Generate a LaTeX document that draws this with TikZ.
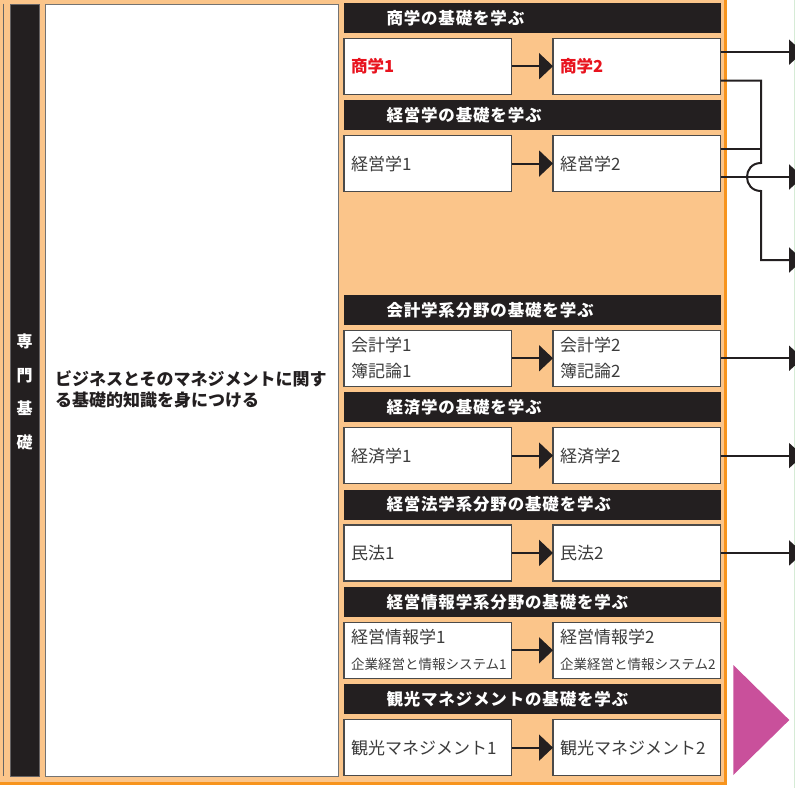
\documentclass[tikz,border=0pt]{standalone}
\usepackage{fontspec}
\newfontfamily\jp{Noto Sans CJK JP}
\newfontfamily\jpsp[LetterSpace=5]{Noto Sans CJK JP}
\usetikzlibrary{arrows.meta}
\definecolor{orl}{HTML}{FBC58A}
\definecolor{oro}{HTML}{F7941D}
\definecolor{dk}{HTML}{231F20}
\definecolor{bdr}{HTML}{4A4A4A}
\definecolor{txt}{HTML}{3C3C3C}
\definecolor{redt}{HTML}{E8131E}
\definecolor{pinkt}{HTML}{C9509B}
\definecolor{grn}{HTML}{D6EBD6}
\tikzset{
  hdr/.style={rectangle, fill=dk, draw=dk, line width=0.8pt, anchor=north west, outer sep=0pt,
    minimum height=29pt, text width=291pt, inner xsep=42.5pt, inner ysep=0pt, align=left,
    text=white, font=\jpsp\bfseries\fontsize{16.5}{18}\selectfont},
  crs/.style={rectangle, fill=white, draw=bdr, line width=1.3pt, anchor=north west, outer sep=0pt,
    minimum height=56pt, text width=153.5pt, inner xsep=7pt, inner ysep=0pt, align=left,
    text=txt, font=\jp\fontsize{17}{26}\selectfont},
  redc/.style={text=redt, font=\jp\bfseries\fontsize{16.5}{26}\selectfont},
  conn/.style={draw=dk, line width=2pt, -{Triangle[length=14pt,width=26pt]}},
  outa/.style={draw=dk, line width=2pt, -{Triangle[length=14pt,width=25pt]}},
  plain/.style={draw=dk, line width=2pt},
}
\begin{document}
\begin{tikzpicture}[x=1pt,y=-1pt]
\clip (0,0) rectangle (795,787);
% background
\fill[orl] (-5,-5) rectangle (725,783);
\draw[oro, line width=3pt] (725,-5) -- (725,783) -- (-5,783);
\draw[grn, line width=1pt] (794,-5) -- (794,792);
\draw[gray!80!black, line width=1pt] (3.5,3.5) -- (3.5,776);
% left column
\node[rectangle, fill=dk, draw=dk!70!white, line width=0.6pt, anchor=north west, minimum width=29pt, minimum height=772.5pt, inner sep=0pt] (col) at (10,3.5) {};
\node[align=center, text=white, font=\jp\bfseries\fontsize{16}{33.5}\selectfont] (colt) at (24.5,392) {専\\門\\基\\礎};
\node[rectangle, fill=white, draw=gray!90!black, line width=1pt, anchor=north west, minimum width=293pt, minimum height=772.5pt, inner sep=0pt] (wb) at (45,3.5) {};
\node[anchor=west, align=left, text=dk, font=\jp\bfseries\fontsize{17}{21.5}\selectfont, inner sep=0pt] (goal) at (55,389.5) {ビジネスとそのマネジメントに関す\\る基礎的知識を身につける};
% headers
\node[hdr] (h1) at (344,3.4) {商学の基礎を学ぶ};
\node[hdr] (h2) at (344,100.75) {経営学の基礎を学ぶ};
\node[hdr] (h3) at (344,295.45) {会計学系分野の基礎を学ぶ};
\node[hdr] (h4) at (344,392.8) {経済学の基礎を学ぶ};
\node[hdr] (h5) at (344,490.15) {経営法学系分野の基礎を学ぶ};
\node[hdr] (h6) at (344,587.5) {経営情報学系分野の基礎を学ぶ};
\node[hdr] (h7) at (344,684.85) {観光マネジメントの基礎を学ぶ};
% course boxes
\node[crs, redc] (s1) at (344,38.2) {商学1};
\node[crs, redc] (s2) at (553,38.2) {商学2};
\node[crs] (k1) at (344,135.55) {経営学1};
\node[crs] (k2) at (553,135.55) {経営学2};
\node[crs] (a1) at (344,330.25) {会計学1\\簿記論1};
\node[crs] (a2) at (553,330.25) {会計学2\\簿記論2};
\node[crs] (e1) at (344,427.6) {経済学1};
\node[crs] (e2) at (553,427.6) {経済学2};
\node[crs] (m1) at (344,524.95) {民法1};
\node[crs] (m2) at (553,524.95) {民法2};
\node[crs] (i1) at (344,622.3) {経営情報学1\\\mbox{\fontsize{13.5}{26}\selectfont 企業経営と情報システム1}};
\node[crs] (i2) at (553,622.3) {経営情報学2\\\mbox{\fontsize{13.5}{26}\selectfont 企業経営と情報システム2}};
\node[crs] (t1) at (344,719.65) {観光マネジメント1};
\node[crs] (t2) at (553,719.65) {観光マネジメント2};
% connectors between boxes
\draw[conn] (s1.east) -- (s2.west);
\draw[conn] (k1.east) -- (k2.west);
\draw[conn] (a1.east) -- (a2.west);
\draw[conn] (e1.east) -- (e2.west);
\draw[conn] (m1.east) -- (m2.west);
\draw[conn] (i1.east) -- (i2.west);
\draw[conn] (t1.east) -- (t2.west);
% outgoing
\coordinate (o1) at (803,52.2);
\coordinate (o2) at (803,177);
\coordinate (o3) at (803,260);
\coordinate (o4) at (803,358.25);
\coordinate (o5) at (803,455.6);
\coordinate (o6) at (803,552.95);
\coordinate (j1) at (761,80.7);
\coordinate (j2) at (761,149);
\draw[outa] (s2.east |- o1) -- (o1);
\draw[outa] (s2.east |- j1) -- (j1) -- (761,163) .. controls (742.3,163) and (742.3,191) .. (761,191) -- (761,260) -- (o3);
\draw[plain] (k2.east |- j2) -- (j2);
\draw[outa] (k2.east |- o2) -- (o2);
\draw[outa] (a2.east) -- (o4);
\draw[outa] (e2.east) -- (o5);
\draw[outa] (m2.east) -- (o6);
% pink arrow
\fill[pinkt] (733.3,665) -- (789.3,720) -- (733.3,775) -- cycle;
\end{tikzpicture}
\end{document}
